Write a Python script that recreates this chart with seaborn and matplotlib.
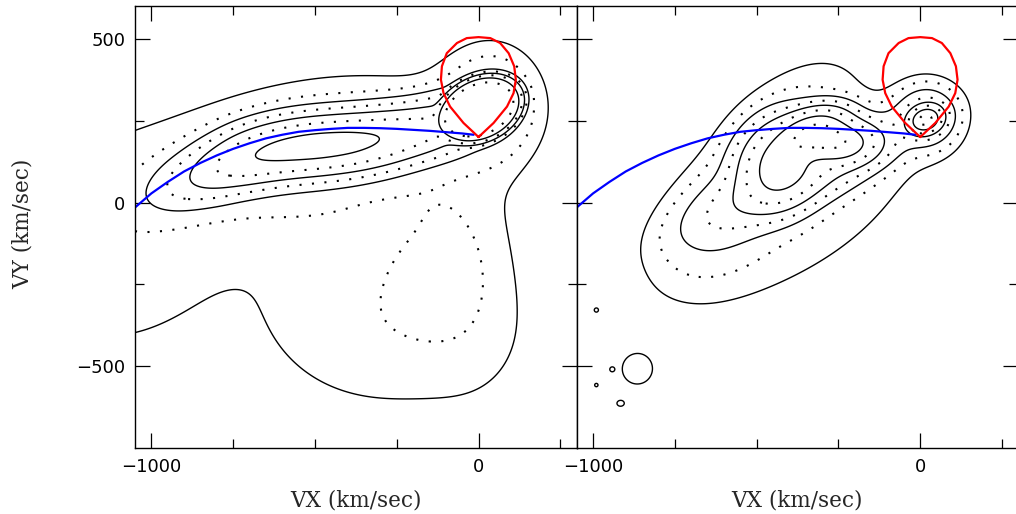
import numpy as np
import matplotlib
matplotlib.use("Agg")
import matplotlib.pyplot as plt
import seaborn as sns

sns.set_style("ticks")
plt.rcParams["font.family"] = ["DejaVu Sans"]

# density model, left panel (amplitude, centre, widths, tilt, profile power)
left_amp = [200, 4.5, 1.0, 6.1, 18, 38, 48, 53, 49, 38, 26, 21, 3.0, 1.6, 0.8, 1.25, 1.0, 0.8]
left_cx = [5, 40, -1000, -900, -800, -700, -600, -500, -400, -300, -200, -100, -500, -1150, -140, -240, -10, -370]
left_cy = [285, 300, 20, 60, 100, 138, 160, 172, 182, 196, 215, 240, 150, -150, -170, -430, -150, -240]
left_sx = [107, 90, 65, 65, 65, 65, 65, 65, 65, 65, 65, 65, 330, 280, 140, 300, 110, 220]
left_sy = [76, 105, 48, 48, 48, 48, 48, 48, 48, 48, 48, 48, 150, 260, 190, 190, 250, 200]
left_ang = [25, 0, 22, 22, 20, 15, 10, 6, 6, 10, 14, 20, 10, 0, 0, 0, 0, 0]
left_pow = [3, 1, 1, 1, 1, 1, 1, 1, 1, 1, 1, 1, 1, 1, 1.5, 1, 1, 1]

# density model, right panel
right_amp = [150, 10, 85, 120, 110, 25, 3, 2.5, 1.8, 1.6, 1.2, 1.3, 1.3, 1.3]
right_cx = [16, 20, -430, -330, -250, -350, -620, -430, -380, -865, -916, -990, -942, -990]
right_cy = [253, 262, 120, 215, 185, 90, -60, 215, -20, -510, -613, -328, -509, -557]
right_sx = [27, 55, 70, 60, 60, 170, 130, 180, 350, 40, 15, 6, 6, 6]
right_sy = [21, 55, 60, 35, 35, 50, 90, 95, 160, 40, 12, 6, 6, 6]
right_ang = [20, 0, 57, 20, 0, 25, 40, 45, 32, 0, 0, 0, 0, 0]
right_pow = [1] * 14

levels = [1, 2, 4, 8, 16, 32, 64, 128, 256]

# blue orbit curve
orbit_vx = [-1050, -1000, -950, -900, -850, -800, -750, -700, -650, -600, -550,
            -500, -450, -400, -350, -300, -250, -200, -150, -100, -50, -15]
orbit_vy = [-15, 28, 63, 95, 121, 144, 164, 181, 196, 207, 216,
            221, 225, 228, 228, 227, 225, 222, 219, 215, 211, 207]

# red teardrop
drop_vx = [0, -46, -87, -107, -115, -112, -97, -66, -36, 0,
           36, 66, 92, 109, 114, 107, 87, 46, 0]
drop_vy = [200, 243, 293, 334, 375, 416, 456, 487, 502, 505,
           502, 487, 456, 416, 375, 334, 293, 243, 200]

xg = np.linspace(-1050, 300, 700)
yg = np.linspace(-750, 600, 700)
X, Y = np.meshgrid(xg, yg)


def density(amp, cx, cy, sx, sy, ang, pw):
    Z = np.zeros_like(X)
    for a, x0, y0, s1, s2, t, p in zip(amp, cx, cy, sx, sy, ang, pw):
        t = np.deg2rad(t)
        u = (X - x0) * np.cos(t) + (Y - y0) * np.sin(t)
        v = -(X - x0) * np.sin(t) + (Y - y0) * np.cos(t)
        Z += a * np.exp(-0.5 * ((u / s1) ** 2 + (v / s2) ** 2) ** p)
    return Z


dotted = (0, (1.0, 5.0))
styles = ["solid" if i % 2 == 0 else dotted for i in range(len(levels))]
widths = [1.0 if i % 2 == 0 else 1.5 for i in range(len(levels))]

fig = plt.figure(figsize=(10.16, 5.14), dpi=100)
ax1 = fig.add_axes([135 / 1016, 65.7 / 514, 441.7 / 1016, 442.3 / 514])
ax2 = fig.add_axes([576.7 / 1016, 65.7 / 514, 441.7 / 1016, 442.3 / 514])

fields = [density(left_amp, left_cx, left_cy, left_sx, left_sy, left_ang, left_pow),
          density(right_amp, right_cx, right_cy, right_sx, right_sy, right_ang, right_pow)]

for ax, Z in zip([ax1, ax2], fields):
    ax.contour(X, Y, Z, levels=levels, colors="black", linewidths=widths, linestyles=styles)
    sns.lineplot(x=orbit_vx, y=orbit_vy, sort=False, estimator=None, color="#0000ff",
                 linewidth=1.6, ax=ax)
    sns.lineplot(x=drop_vx, y=drop_vy, sort=False, estimator=None, color="#ff0000",
                 linewidth=1.6, ax=ax)
    ax.set_xlim(-1050, 300)
    ax.set_ylim(-750, 600)
    ax.set_xticks([-1000, 0])
    ax.set_xticks([-750, -500, -250, 250], minor=True)
    ax.set_yticks([-500, 0, 500])
    ax.set_yticks([-250, 250], minor=True)
    ax.set_xticklabels(["\u22121000", "0"])
    ax.tick_params(which="both", direction="in", top=True, right=True, width=0.9,
                   labelsize=13, colors="black")
    ax.tick_params(which="major", length=10.5, pad=7)
    ax.tick_params(which="minor", length=6.5)
    for s in ax.spines.values():
        s.set_linewidth(1.0)
        s.set_color("black")
    ax.set_xlabel("")
    ax.set_ylabel("")

ax1.set_yticklabels(["\u2212500", "0", "500"])
ax2.set_yticklabels([])

for xc in [356 / 1016, 797 / 1016]:
    fig.text(xc, 1 - 500 / 514, "VX (km/sec)", ha="center", va="center",
             fontsize=15.5, family="DejaVu Serif")
fig.text(23 / 1016, 1 - 224 / 514, "VY (km/sec)", ha="center", va="center",
         rotation=90, fontsize=15.5, family="DejaVu Serif")

fig.savefig("out.png", dpi=100)
